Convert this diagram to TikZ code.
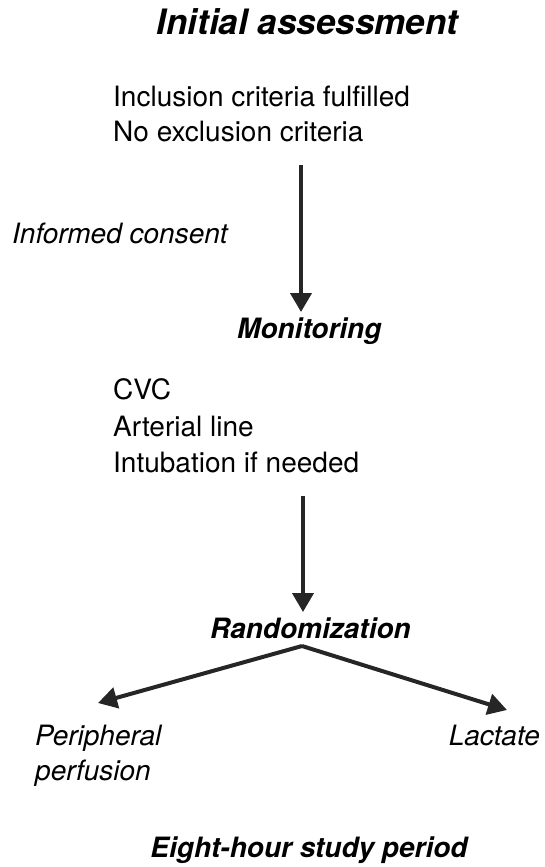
\documentclass[tikz,border=0pt]{standalone}
\usepackage{fontspec}
\setmainfont{TeX Gyre Heros}
\usetikzlibrary{arrows.meta}
\definecolor{ink}{HTML}{262626}
\tikzset{
  txt/.style={inner sep=0pt, font=\fontsize{28}{34}\selectfont},
  itxt/.style={txt, font=\fontsize{28}{34}\selectfont\itshape},
  btxt/.style={txt, font=\fontsize{28}{34}\selectfont\bfseries\itshape},
  arr/.style={draw=ink, line width=4pt, -{Triangle[length=19pt,width=21pt]}, fill=ink}
}
\begin{document}
\begin{tikzpicture}[x=1pt,y=-1pt]
\useasboundingbox (0,0) rectangle (545,867);

% headings and text blocks
\node[btxt, font=\fontsize{35}{41}\selectfont\bfseries\itshape, anchor=base] (title) at (307.5,35) {Initial assessment};
\node[txt, anchor=base west] (incl) at (113,106) {Inclusion criteria fulfilled};
\node[txt, anchor=base west] (excl) at (113,141) {No exclusion criteria};
\node[itxt, anchor=base west] (consent) at (12,243) {Informed consent};
\node[btxt, anchor=base west] (mon) at (237,338) {Monitoring};
\node[txt, anchor=base west] (cvc) at (113,399) {CVC};
\node[txt, anchor=base west] (art) at (113,436) {Arterial line};
\node[txt, anchor=base west] (intub) at (113,472) {Intubation if needed};
\node[btxt, anchor=base west] (rand) at (210,638) {Randomization};
\node[itxt, anchor=base west] (peri) at (35,745) {Peripheral};
\node[itxt, anchor=base west] (perf) at (35,780) {perfusion};
\node[itxt, anchor=base east] (lact) at (540,745) {Lactate};
\node[btxt, anchor=base] (period) at (309,857) {Eight-hour study period};

% connector end points
\coordinate (s1) at (301,165);
\coordinate (e1) at (301,312);
\coordinate (s2) at (303,496);
\coordinate (e2) at (303,612);
\coordinate (split) at (302,646);
\coordinate (eL) at (98,703);
\coordinate (eR) at (507,710);

% arrows
\draw[arr] (s1) -- (e1);
\draw[arr] (s2) -- (e2);
\draw[arr] (split) -- (eL);
\draw[arr] (split) -- (eR);
\end{tikzpicture}
\end{document}
